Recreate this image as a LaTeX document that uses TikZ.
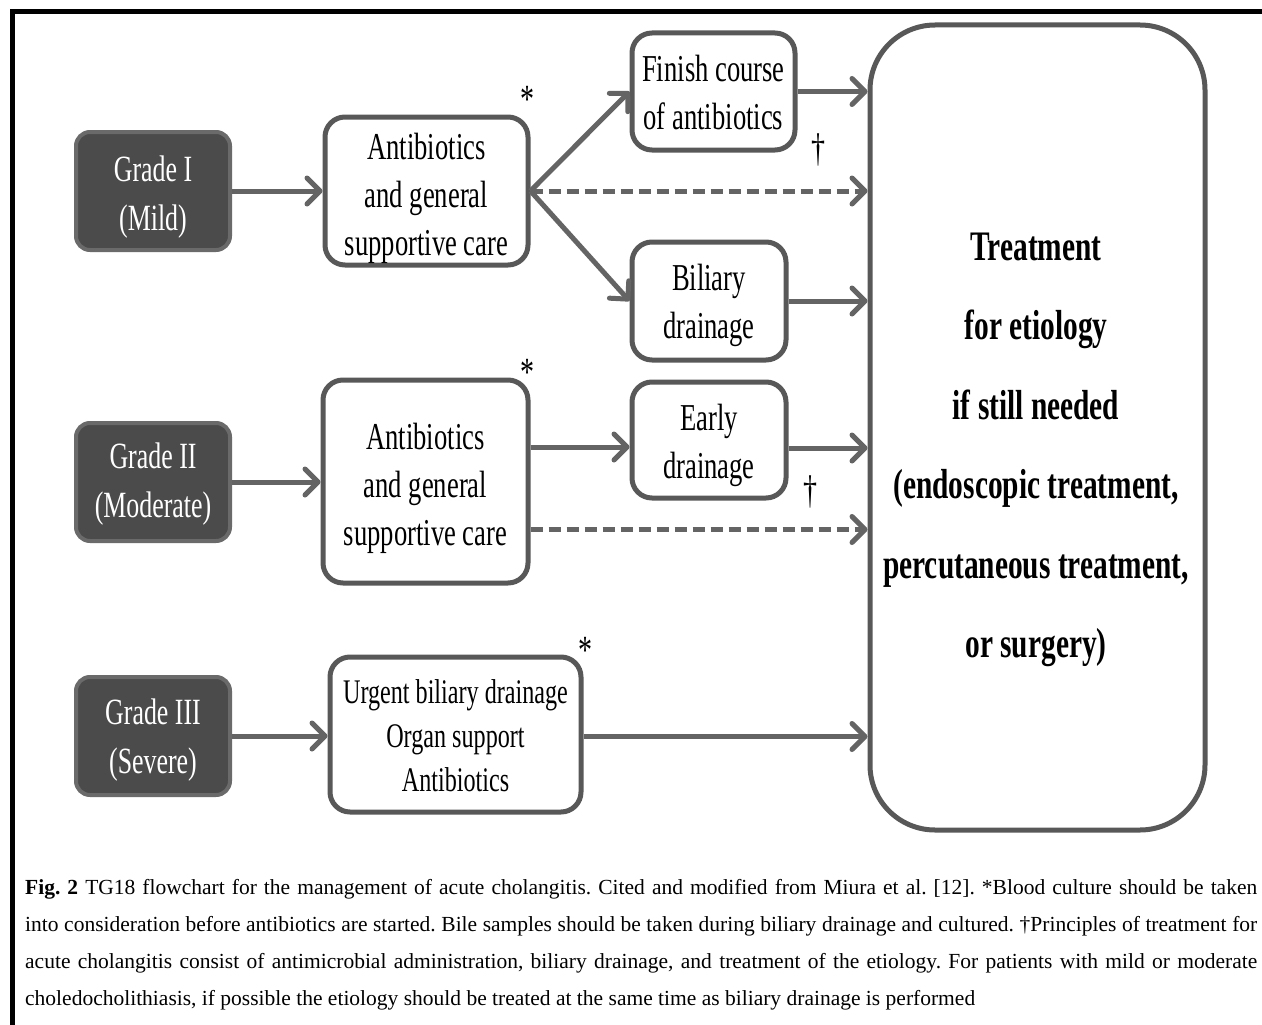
\documentclass[tikz,border=0pt]{standalone}
\usepackage{fontspec}
\newfontfamily\boxfont{Liberation Serif}[FakeStretch=0.7]
\newfontfamily\capfont{Liberation Serif}
\usetikzlibrary{arrows.meta}
\definecolor{linegray}{HTML}{646464}
\definecolor{boxline}{HTML}{585858}
\definecolor{gradefill}{HTML}{4B4B4B}
\definecolor{gradeline}{HTML}{6A6A6A}
% invisible strut that sets the height of a node's first line
\newcommand{\firstline}[1]{\rule{0pt}{#1}}
\begin{document}
\begin{tikzpicture}[x=1pt,y=-1pt,
  gradebox/.style={draw=gradeline, fill=gradefill, line width=4pt, rounded corners=14pt,
    minimum width=154pt, minimum height=118pt, text=white, align=center,
    font=\boxfont\fontsize{37}{49}\selectfont},
  stepbox/.style={draw=boxline, fill=white, line width=5pt, rounded corners=20pt,
    align=center, inner sep=0pt, font=\boxfont\fontsize{38}{48}\selectfont},
  conn/.style={draw=linegray, line width=5pt,
    -{Straight Barb[length=13pt,width=26pt,round,line width=5pt]}},
  dashconn/.style={conn, dash pattern=on 12pt off 6pt},
  notemark/.style={font=\boxfont\fontsize{40}{40}\selectfont, inner sep=0pt}]
\useasboundingbox (0,0) rectangle (1262,1025);
\fill[white] (0,0) rectangle (1262,1025);

% outer frame (top and left edges)
\draw[line width=5pt, black] (12,1025) -- (12,12) -- (1262,12);

% grade boxes
\node[gradebox] (g1) at (153,191) {\firstline{38.5pt}Grade I\\(Mild)};
\node[gradebox] (g2) at (153,482) {\firstline{30.5pt}Grade II\\(Moderate)};
\node[gradebox] (g3) at (153,736) {\firstline{34.5pt}Grade III\\(Severe)};

% first-line treatment boxes
\node[stepbox, minimum width=203pt, minimum height=148pt] (b1) at (426.5,191)
  {\firstline{41pt}Antibiotics\\and general\\supportive care};
\node[stepbox, minimum width=205pt, minimum height=203pt] (b2) at (425.5,481.5)
  {\firstline{41pt}Antibiotics\\and general\\supportive care};
\node[stepbox, minimum width=251pt, minimum height=155pt,
  font=\boxfont\fontsize{34.5}{44}\selectfont] (b3) at (455.5,734.5)
  {\firstline{26pt}Urgent biliary drainage\\Organ support\\Antibiotics};

% follow-up boxes
\node[stepbox, minimum width=163pt, minimum height=117pt] (fin) at (713.5,91.5)
  {\firstline{29pt}Finish course\\of antibiotics};
\node[stepbox, minimum width=154pt, minimum height=118pt] (bil) at (709,301)
  {\firstline{36pt}Biliary\\drainage};
\node[stepbox, minimum width=154pt, minimum height=116pt] (ea) at (709,440)
  {\firstline{37pt}Early\\drainage};

% final treatment box
\node[draw=boxline, line width=5pt, rounded corners=65pt,
  minimum width=335pt, minimum height=805pt] (treat) at (1037.5,427.5) {};
\node[align=center, font=\boxfont\bfseries\fontsize{42}{79.5}\selectfont] (treattxt) at (1036,450)
  {Treatment\\for etiology\\if still needed\\(endoscopic treatment,\\percutaneous treatment,\\or surgery)};

% footnote marks
\node[notemark] (s1) at (527,99) {*};
\node[notemark] (s2) at (527,372) {*};
\node[notemark] (s3) at (585,650) {*};
\node[notemark] (d1) at (818,150) {†};
\node[notemark] (d2) at (810,492) {†};

% connectors
\draw[conn] (g1.east) -- (b1.west);
\draw[conn] (g2.east) -- (g2.east -| b2.west);
\draw[conn] (g3.east) -- (g3.east -| b3.west);

\draw[conn] (b1.east) -- (fin.west);
\draw[conn] (b1.east) -- (bil.west);
\draw[dashconn] (b1.east) -- (b1.east -| treat.west);

\coordinate (eain) at ([yshift=-7pt]ea.west);
\coordinate (eaout) at ([yshift=-8pt]ea.east);
\coordinate (b2dash) at ([yshift=-48pt]b2.east);
\draw[conn] (b2.east |- eain) -- (eain);
\draw[dashconn] (b2dash) -- (b2dash -| treat.west);

\draw[conn] (fin.east) -- (fin.east -| treat.west);
\draw[conn] (bil.east) -- (bil.east -| treat.west);
\draw[conn] (eaout) -- (eaout -| treat.west);
\coordinate (b3out) at ([yshift=-2pt]b3.east);
\draw[conn] (b3out) -- (b3out -| treat.west);

% caption
\node[anchor=base west, inner sep=0pt, text width=1232pt, align=justify,
  font=\capfont\frenchspacing\fontsize{21.5}{37.3}\selectfont] (cap) at (25,894)
  {\textbf{Fig. 2} TG18 flowchart for the management of acute cholangitis. Cited and modified from Miura et al. [12]. *Blood culture should be taken\linebreak
   into consideration before antibiotics are started. Bile samples should be taken during biliary drainage and cultured. †Principles of treatment for\linebreak
   acute cholangitis consist of antimicrobial administration, biliary drainage, and treatment of the etiology. For patients with mild or moderate\linebreak
   choledocholithiasis, if possible the etiology should be treated at the same time as biliary drainage is performed};
\end{tikzpicture}
\end{document}
